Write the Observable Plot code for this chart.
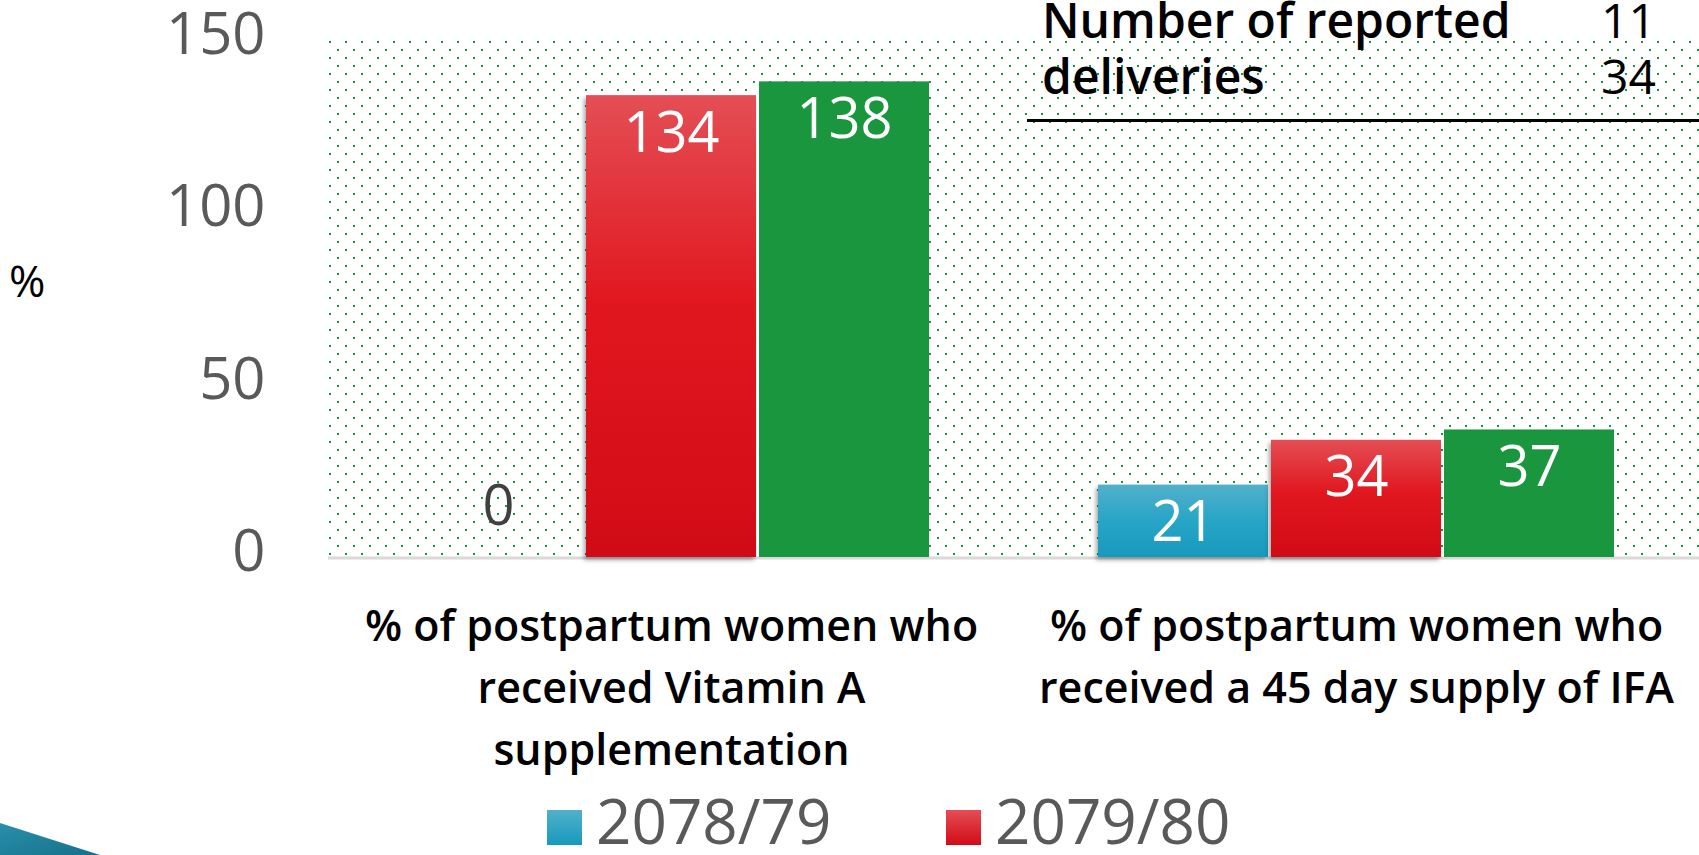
<!DOCTYPE html>
<html>
<head>
<meta charset="utf-8">
<script src="https://cdn.jsdelivr.net/npm/d3@7"></script>
<script src="https://cdn.jsdelivr.net/npm/@observablehq/plot@0.6"></script>
<style>
  html, body { margin: 0; padding: 0; background: #fff; overflow: hidden; }
  body { width: 1699px; height: 855px; position: relative; font-family: "Open Sans", sans-serif; }
  #chart svg { display: block; }
  #ylab { position: absolute; left: 9px; top: 258px; font-size: 44px; line-height: 1; color: #000; }
  #table { position: absolute; left: 1042px; top: -8px; width: 614px; font-size: 48px; font-weight: 600; line-height: 56px; color: #000; }
  #table .row { display: flex; justify-content: space-between; }
  #table .num { font-weight: 400; }
  #tableRule { position: absolute; left: 1027px; right: 0; top: 119px; height: 3px; background: #000; }
  #legend { position: relative; height: 65px; }
  #legend .item { position: absolute; top: 0; display: flex; align-items: flex-end; height: 60px; }
  #legend .sw { width: 35px; height: 35px; margin-right: 14px; margin-bottom: 5px; }
  #legend .lab { font-size: 62px; line-height: 60px; color: #595959; }
  #swoosh { position: absolute; left: 0; top: 823px; width: 100px; height: 32px;
            background: linear-gradient(160deg, #2a8fab, #15708a);
            clip-path: polygon(0 0, 100% 100%, 0 100%); }
</style>
</head>
<body>
<svg width="0" height="0" style="position:absolute">
  <defs>
    <pattern id="dots" patternUnits="userSpaceOnUse" x="328" y="40" width="16" height="16">
      <rect x="1" y="1" width="2" height="2" fill="#1a963e"></rect>
      <rect x="9" y="9" width="2" height="2" fill="#1a963e"></rect>
    </pattern>
    <linearGradient id="gradRed" x1="0" y1="0" x2="0" y2="1">
      <stop offset="0" stop-color="#e44e55"></stop>
      <stop offset="0.45" stop-color="#e1171f"></stop>
      <stop offset="1" stop-color="#d10b16"></stop>
    </linearGradient>
    <linearGradient id="gradBlue" x1="0" y1="0" x2="0" y2="1">
      <stop offset="0" stop-color="#52b0ca"></stop>
      <stop offset="0.5" stop-color="#27a5c7"></stop>
      <stop offset="1" stop-color="#1799bd"></stop>
    </linearGradient>
  </defs>
</svg>
<div id="chart"></div>
<div id="legend"></div>
<div id="ylab">%</div>
<div id="table"></div>
<div id="tableRule"></div>
<div id="swoosh"></div>
<script>
// ---- data ----
const groups = [
  "% of postpartum women who received Vitamin A supplementation",
  "% of postpartum women who received a 45 day supply of IFA"
];
const groupLabels = [
  "% of postpartum women who\nreceived Vitamin A\nsupplementation",
  "% of postpartum women who\nreceived a 45 day supply of IFA"
];
const series = ["2078/79", "2079/80", "2080/81"];
const values2078 = [0, 21];
const values2079 = [134, 34];
const values2080 = [138, 37];
const yTicks = [0, 50, 100, 150];
const legendSeries = ["2078/79", "2079/80"];
const tableLabels = ["Number of reported", "deliveries"];
const tableValues = [11, 34];

// ---- build table ----
const seriesValues = [values2078, values2079, values2080];
const rows = groups.flatMap((g, i) => series.map((s, j) => ({group: g, series: s, value: seriesValues[j][i]})));
const labelRows = groups.map((g, i) => ({group: g, label: groupLabels[i]}));

const fills = {"2078/79": "url(#gradBlue)", "2079/80": "url(#gradRed)", "2080/81": "#1a963e"};
const swatch = {"2078/79": "linear-gradient(#52b0ca, #1799bd)", "2079/80": "linear-gradient(#e44e55, #d10b16)", "2080/81": "#1a963e"};

const plot = Plot.plot({
  width: 1699,
  height: 790,
  marginLeft: 328,
  marginRight: 0,
  marginTop: 40,
  marginBottom: 233,
  style: {fontFamily: "'Open Sans', sans-serif", background: "transparent", overflow: "visible"},
  fx: {domain: groups, paddingInner: 0.246, paddingOuter: 0.123, axis: null, label: null},
  x: {domain: series, paddingInner: 0.02, paddingOuter: 0, axis: null},
  y: {domain: [0, 150], axis: null},
  marks: [
    Plot.axisY({ticks: yTicks, tickSize: 0, tickPadding: 148, fontSize: 58, color: "#595959", dy: -5, label: null}),
    ...series.map(s => Plot.barY(rows.filter(d => d.series === s), {
      fx: "group", x: "series", y: "value", fill: fills[s],
      imageFilter: s === "2080/81" ? undefined : "drop-shadow(-2px 3px 2px rgba(0,0,0,0.35))"
    })),
    Plot.text(rows.filter(d => d.value > 0), {
      fx: "group", x: "series", y: "value", text: d => String(d.value),
      fill: "white", fontSize: 56, dy: 38
    }),
    Plot.text(rows.filter(d => d.value === 0), {
      fx: "group", x: "series", y: "value", text: d => String(d.value),
      fill: "#404040", fontSize: 56, dy: -50
    }),
    Plot.text(labelRows, {
      fx: "group", text: "label", frameAnchor: "bottom", lineAnchor: "top",
      dy: 39, fontSize: 43, fontWeight: 600, fill: "#000", lineHeight: 1.45
    })
  ]
});

// background dotted area and baseline, placed using the plot's own scales
const fxs = plot.scale("fx");
const ys = plot.scale("y");
const [xa, xb] = fxs.range;
const yBottom = ys.apply(0), yTop = ys.apply(150);
const firstG = plot.querySelector("g");
const bg = document.createElementNS("http://www.w3.org/2000/svg", "rect");
bg.setAttribute("x", xa); bg.setAttribute("y", yTop);
bg.setAttribute("width", xb - xa); bg.setAttribute("height", yBottom - yTop);
bg.setAttribute("fill", "url(#dots)");
plot.insertBefore(bg, firstG);
const base = document.createElementNS("http://www.w3.org/2000/svg", "line");
base.setAttribute("x1", xa); base.setAttribute("x2", xb);
base.setAttribute("y1", yBottom + 1); base.setAttribute("y2", yBottom + 1);
base.setAttribute("stroke", "#d9d9d9"); base.setAttribute("stroke-width", 3);
plot.insertBefore(base, firstG);

document.getElementById("chart").appendChild(plot);

// legend (HTML, below the SVG)
const legend = d3.select("#legend");
const legendLeft = [547, 946];
legendSeries.forEach((s, i) => {
  const item = legend.append("div").attr("class", "item").style("left", legendLeft[i] + "px");
  item.append("div").attr("class", "sw").style("background", swatch[s]);
  item.append("div").attr("class", "lab").text(s);
});

// table overlay
const table = d3.select("#table");
tableLabels.forEach((t, i) => {
  const r = table.append("div").attr("class", "row");
  r.append("span").text(t);
  r.append("span").attr("class", "num").text(tableValues[i]);
});
</script>
</body>
</html>
